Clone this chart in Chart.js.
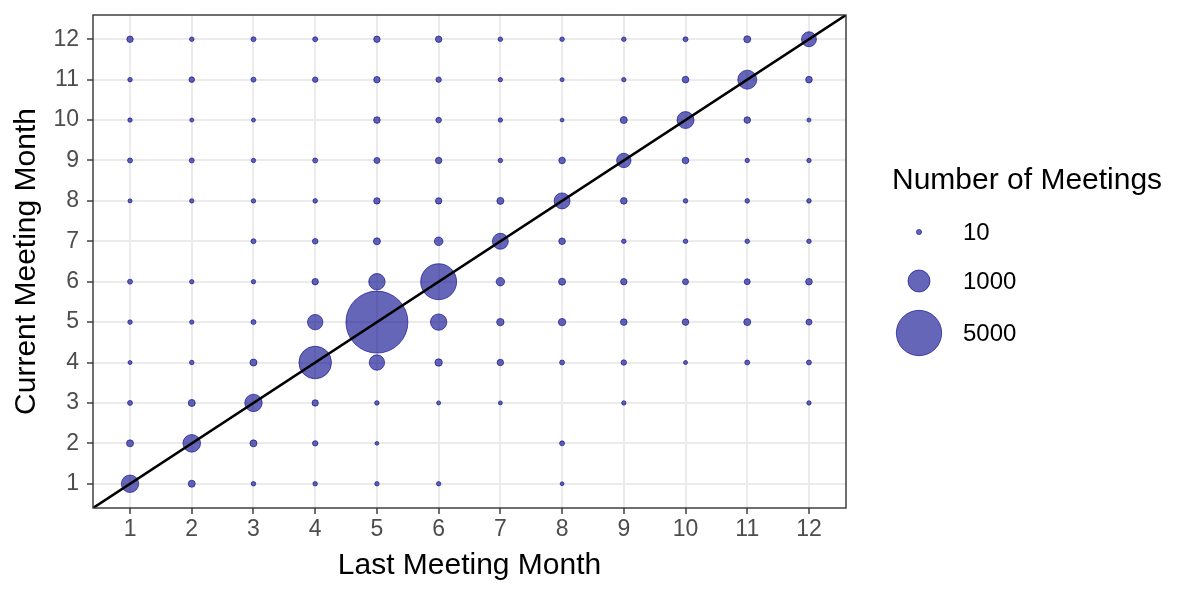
<!DOCTYPE html>
<html>
<head>
<meta charset="utf-8">
<script src="https://cdn.jsdelivr.net/npm/chart.js@4"></script>
<style>
  html, body { margin: 0; padding: 0; background: #fff; }
  #wrap { width: 1196px; height: 598px; }
</style>
</head>
<body>
<div id="wrap"><canvas id="meetingsChart" width="1196" height="598"></canvas></div>
<script>
// months on both axes
const months = [1, 2, 3, 4, 5, 6, 7, 8, 9, 10, 11, 12];

// number of meetings, one row per current month (1..12), columns = last month (1..12)
// 0 = no point drawn
const current1  = [568, 41, 5, 5, 4, 4, 0, 1, 0, 0, 0, 0];
const current2  = [41, 584, 41, 14, 1, 0, 0, 9, 0, 0, 0, 0];
const current3  = [9, 41, 568, 29, 5, 2, 2, 0, 4, 0, 0, 4];
const current4  = [2, 5, 41, 2433, 419, 50, 29, 9, 14, 2, 9, 9];
const current5  = [5, 4, 9, 419, 9733, 490, 50, 50, 33, 33, 41, 22];
const current6  = [9, 4, 4, 29, 490, 3029, 76, 41, 29, 22, 22, 33];
const current7  = [0, 0, 9, 16, 41, 82, 461, 33, 5, 5, 5, 5];
const current8  = [2, 4, 4, 5, 29, 29, 41, 461, 33, 5, 5, 5];
const current9  = [9, 9, 4, 9, 22, 29, 5, 33, 353, 33, 4, 4];
const current10 = [4, 2, 2, 0, 33, 16, 4, 1, 41, 536, 33, 2];
const current11 = [5, 16, 9, 14, 29, 14, 4, 2, 4, 33, 703, 33];
const current12 = [29, 5, 9, 9, 29, 29, 5, 5, 5, 9, 41, 392];
const meetingRows = [current1, current2, current3, current4, current5, current6,
                     current7, current8, current9, current10, current11, current12];

const legendValues = [10, 1000, 5000];
const axisMin = 0.4;
const axisMax = 12.6;

const FONT = '"Liberation Sans", Arial, Helvetica, sans-serif';
const fillCol = 'rgba(0, 0, 139, 0.6)';

// size scale: radius grows with sqrt of count
function sizeFor(v) {
  return 1.6 + 0.298 * Math.sqrt(v);
}

const points = [];
meetingRows.forEach((row, i) => {
  row.forEach((v, j) => {
    if (v > 0) points.push({ x: months[j], y: months[i], v: v });
  });
});

// border + size legend
const extras = {
  id: 'extras',
  afterDraw(chart) {
    const c = chart.ctx;
    const a = chart.chartArea;
    c.save();
    c.strokeStyle = '#333333';
    c.lineWidth = 1.4;
    c.strokeRect(a.left, a.top, a.right - a.left, a.bottom - a.top);

    const lx = a.right + 46;
    c.fillStyle = '#000';
    c.font = '30px ' + FONT;
    c.textAlign = 'left';
    c.textBaseline = 'middle';
    c.fillText('Number of Meetings', lx, 181);

    const ys = [232, 281, 333];
    legendValues.forEach((v, k) => {
      const cx = a.right + 73;
      c.beginPath();
      c.arc(cx, ys[k], sizeFor(v), 0, Math.PI * 2);
      c.fillStyle = fillCol;
      c.fill();
      c.lineWidth = 1;
      c.strokeStyle = fillCol;
      c.stroke();
      c.fillStyle = '#000';
      c.font = '24px ' + FONT;
      c.fillText(String(v), a.right + 117, ys[k] + 1);
    });
    c.restore();
  }
};

const ctx = document.getElementById('meetingsChart').getContext('2d');
const meetingsChart = new Chart(ctx, {
  data: {
    datasets: [
      {
        type: 'line',
        data: [{ x: axisMin, y: axisMin }, { x: axisMax, y: axisMax }],
        borderColor: '#000',
        borderWidth: 2.6,
        pointRadius: 0,
        order: 0
      },
      {
        type: 'bubble',
        data: points,
        backgroundColor: fillCol,
        borderColor: fillCol,
        borderWidth: 1,
        radius: (c) => sizeFor(c.raw.v),
        order: 1
      }
    ]
  },
  options: {
    responsive: false,
    animation: false,
    events: [],
    layout: { autoPadding: false, padding: { left: 0, top: 15, right: 350, bottom: 0 } },
    plugins: {
      legend: { display: false },
      tooltip: { enabled: false }
    },
    scales: {
      x: {
        type: 'linear',
        min: axisMin,
        max: axisMax,
        afterBuildTicks: (s) => { s.ticks = months.map(m => ({ value: m })); },
        afterFit: (s) => { s.height = 90; s.paddingLeft = 0; s.paddingRight = 0; },
        ticks: {
          color: '#4D4D4D',
          font: { family: FONT, size: 23 },
          padding: 2,
          autoSkip: false,
          maxRotation: 0,
          callback: (v) => String(v)
        },
        grid: { color: '#EBEBEB', lineWidth: 2, tickLength: 6, tickColor: '#333333', tickWidth: 1.4 },
        border: { display: false },
        title: {
          display: true,
          text: 'Last Meeting Month',
          color: '#000',
          font: { family: FONT, size: 30 },
          padding: { top: 0, bottom: 14 }
        }
      },
      y: {
        type: 'linear',
        min: axisMin,
        max: axisMax,
        afterBuildTicks: (s) => { s.ticks = months.map(m => ({ value: m })); },
        afterFit: (s) => { s.width = 93; s.paddingTop = 0; s.paddingBottom = 0; },
        ticks: {
          color: '#4D4D4D',
          font: { family: FONT, size: 23 },
          padding: 8,
          autoSkip: false,
          callback: (v) => String(v)
        },
        grid: { color: '#EBEBEB', lineWidth: 2, tickLength: 6, tickColor: '#333333', tickWidth: 1.4 },
        border: { display: false },
        title: {
          display: true,
          text: 'Current Meeting Month',
          color: '#000',
          font: { family: FONT, size: 30 },
          padding: { top: 9, bottom: 0 }
        }
      }
    }
  },
  plugins: [extras]
});
</script>
</body>
</html>
